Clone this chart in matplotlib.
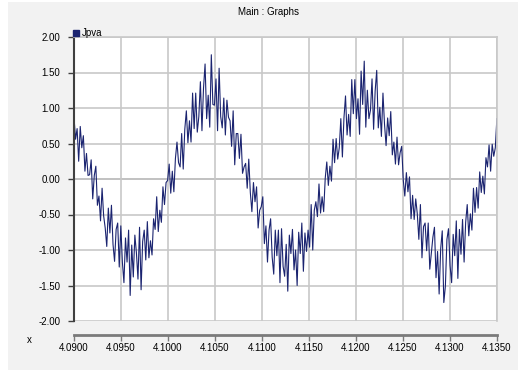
import numpy as np
import matplotlib.pyplot as plt
from matplotlib.lines import Line2D
from matplotlib.patches import Rectangle

plt.rcParams['font.family'] = ['Liberation Sans', 'DejaVu Sans']

t_start = 4.0900
dt = 0.000166   # sample spacing (s)

jpva = [
    0.87, 0.56, 0.71, 0.25, 0.74, 0.44, 0.61, 0.11, 0.36, 0.05,
    0.06, 0.27, -0.28, 0.05, 0.18, -0.37, -0.24, -0.59, -0.13, -0.52,
    -0.69, -0.95, -0.41, -0.76, -0.37, -0.92, -1.16, -0.71, -0.62, -1.24,
    -0.66, -1.17, -1.46, -0.83, -1.17, -0.72, -1.64, -0.93, -1.38, -0.79,
    -1.04, -1.41, -0.68, -1.56, -0.88, -0.72, -1.14, -0.60, -1.11, -0.87,
    -1.07, -0.56, -0.71, -0.25, -0.74, -0.44, -0.61, -0.11, -0.36, -0.05,
    -0.02, 0.21, -0.20, 0.11, -0.18, 0.29, 0.52, 0.23, 0.17, 0.64,
    0.14, 0.70, 0.96, 0.51, 0.82, 0.52, 1.21, 0.71, 1.21, 0.66,
    0.88, 1.37, 0.68, 1.28, 1.62, 0.85, 1.18, 0.73, 1.75, 1.05,
    1.04, 1.41, 0.68, 1.56, 0.88, 0.72, 1.14, 0.62, 1.11, 0.87,
    0.82, 0.46, 0.96, 0.20, 0.64, 0.64, 0.29, 0.63, 0.08, 0.17,
    0.22, -0.13, 0.28, -0.19, -0.46, -0.05, -0.32, -0.11, -0.69, -0.44,
    -0.39, -0.25, -0.91, -0.66, -1.17, -0.72, -0.56, -1.10, -1.34, -0.72,
    -1.08, -0.72, -1.46, -0.70, -1.23, -1.37, -0.92, -1.58, -0.79, -1.05,
    -0.71, -1.28, -1.00, -1.50, -0.75, -1.05, -0.62, -1.30, -0.76, -1.02,
    -0.72, -0.96, -0.36, -1.00, -0.44, -0.32, -0.53, -0.07, -0.48, -0.25,
    -0.46, 0.01, 0.24, -0.09, 0.18, -0.03, 0.56, 0.23, 0.57, 0.28,
    0.44, 0.85, 0.31, 0.86, 1.17, 0.62, 0.91, 0.60, 1.40, 0.92,
    1.40, 0.85, 1.13, 0.63, 1.52, 1.05, 1.66, 0.73, 1.25, 0.85,
    0.97, 1.41, 0.70, 1.24, 1.53, 0.72, 1.01, 0.60, 1.21, 0.77,
    0.47, 0.86, 0.61, 0.95, 0.34, 0.52, 0.21, 0.59, 0.20, 0.37,
    0.46, -0.01, -0.24, 0.09, -0.18, 0.03, -0.56, -0.23, -0.57, -0.28,
    -0.49, -0.85, -0.36, -1.11, -0.67, -0.62, -1.01, -0.62, -1.27, -1.05,
    -0.82, -0.68, -1.39, -1.02, -1.62, -0.98, -0.73, -1.74, -1.51, -0.85,
    -0.70, -1.22, -1.46, -0.78, -1.08, -0.59, -1.40, -0.71, -1.06, -0.57,
    -1.17, -0.61, -0.36, -0.80, -0.49, -0.72, -0.13, -0.47, -0.12, -0.41,
    0.10, -0.19, 0.04, -0.21, 0.30, 0.17, 0.48, 0.11, 0.49, 0.32,
    0.44, 0.85,
]
t = t_start + dt * np.arange(len(jpva))

x_ticks = [4.0900, 4.0950, 4.1000, 4.1050, 4.1100, 4.1150, 4.1200, 4.1250, 4.1300, 4.1350]
y_ticks = [-2.0, -1.5, -1.0, -0.5, 0.0, 0.5, 1.0, 1.5, 2.0]

navy = '#1b2470'
fig = plt.figure(figsize=(5.18, 3.72), dpi=100, facecolor='white')
# grey panel behind the chart
fig.patches.append(Rectangle((8/518, 2/372), 510/518, 368/372, transform=fig.transFigure,
                             facecolor='#f2f2f2', edgecolor='none', zorder=-10))

ax = fig.add_axes([74/518, 1 - 321/372, 423/518, 284/372])
ax.set_facecolor('white')

ax.plot(t, jpva, color=navy, lw=0.8)

ax.set_xlim(4.09, 4.135)
ax.set_ylim(-2, 2)
ax.set_xticks(x_ticks)
ax.set_xticklabels([f"{v:.4f}" for v in x_ticks])
ax.set_yticks(y_ticks)
ax.set_yticklabels([f"{v:.2f}" for v in y_ticks])
ax.grid(True, color='#c8c8c8', lw=1.2)
ax.axhline(0, color='#9a9a9a', lw=1.2, zorder=0.5)
ax.set_axisbelow(True)

for s in ['top', 'right']:
    ax.spines[s].set_color('#c8c8c8')
    ax.spines[s].set_linewidth(1.2)
ax.spines['left'].set_color('#404040')
ax.spines['left'].set_linewidth(1.5)
ax.spines['bottom'].set_position(('outward', 10))
ax.spines['bottom'].set_color('#7a7a7a')
ax.spines['bottom'].set_linewidth(2)

ax.tick_params(axis='y', length=4, width=1, color='#404040', labelsize=7, pad=6)
ax.tick_params(axis='x', length=4, width=1, color='#7a7a7a', labelsize=7, pad=2)

fig.text(268/518, 1 - 12/372, 'Main : Graphs', ha='center', va='center', fontsize=7)
fig.text(29/518, 1 - 340/372, 'x', ha='center', va='center', fontsize=7)

handle = Line2D([], [], marker='s', linestyle='none', color=navy, markersize=4, label='Jpva')
fig.legend(handles=[handle], loc='lower left', bbox_to_anchor=(72/518, 1 - 38/372),
           frameon=False, fontsize=7, borderpad=0, handletextpad=0.2,
           handlelength=0.8, borderaxespad=0)

fig.savefig('out.png', dpi=100, facecolor=fig.get_facecolor())
